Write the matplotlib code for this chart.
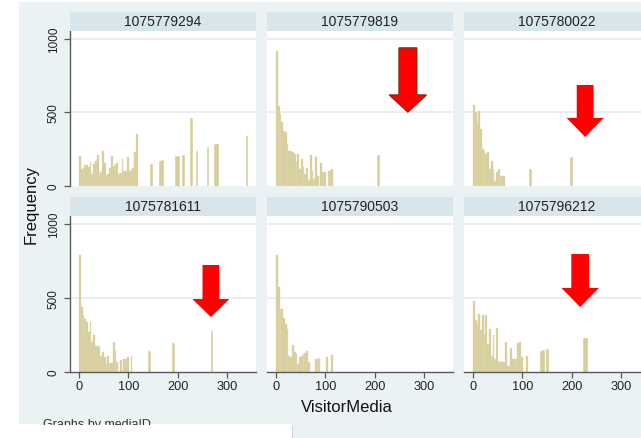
import matplotlib
matplotlib.use('Agg')
import matplotlib.pyplot as plt
from matplotlib.patches import Rectangle, Polygon
import numpy as np

plt.rcParams['font.family'] = ['Liberation Sans', 'DejaVu Sans']

# ---------------- data ----------------
panel_ids = ["1075779294", "1075779819", "1075780022",
             "1075781611", "1075790503", "1075796212"]
bin_width = 3.6

# dense part: consecutive bins starting at 0
dense_1 = [206, 116, 120, 145, 140, 130, 161, 82, 150, 172, 213, 82, 93, 236, 154, 70,
           82, 122, 202, 138, 150, 154, 82, 90, 184, 100, 104, 200, 104, 109, 120, 229, 352]
dense_2 = [916, 546, 490, 435, 376, 367, 286, 240, 236, 229, 218, 161, 218, 115, 184, 127,
           82, 120, 43, 212, 104, 50, 197, 70, 0, 155, 93, 93, 0, 100, 104, 115]
dense_3 = [553, 501, 433, 508, 388, 252, 240, 218, 229, 115, 172, 115, 36, 93, 115, 66, 66, 66]
dense_4 = [791, 440, 383, 360, 340, 272, 340, 202, 247, 179, 175, 170, 111, 138, 100, 54,
           111, 63, 63, 202, 145, 66, 0, 79, 0, 88, 88, 102, 0, 111]
dense_5 = [791, 576, 428, 428, 365, 327, 292, 111, 100, 184, 134, 123, 54, 104, 111, 123,
           129, 145, 66, 0, 0, 0, 88, 88, 93, 0, 0, 0, 104, 0, 0, 118]
dense_6 = [481, 350, 315, 395, 281, 383, 258, 383, 190, 292, 111, 247, 88, 297, 66, 77,
           70, 70, 206, 43, 43, 161, 88, 88, 88, 195, 202, 100, 0, 0, 111]

# sparse isolated bars: centre values and frequencies
sparse_x_1 = [146, 164, 168, 196, 200, 211, 226, 238, 260, 276, 280, 339]
sparse_h_1 = [150, 172, 175, 204, 206, 211, 460, 240, 268, 283, 286, 342]
sparse_x_2 = [207]
sparse_h_2 = [211]
sparse_x_3 = [115, 199]
sparse_h_3 = [115, 197]
sparse_x_4 = [142, 190, 268]
sparse_h_4 = [145, 197, 274]
sparse_x_5 = []
sparse_h_5 = []
sparse_x_6 = [137, 142, 150, 225, 229]
sparse_h_6 = [145, 150, 156, 231, 231]

dense_all = [dense_1, dense_2, dense_3, dense_4, dense_5, dense_6]
sparse_x_all = [sparse_x_1, sparse_x_2, sparse_x_3, sparse_x_4, sparse_x_5, sparse_x_6]
sparse_h_all = [sparse_h_1, sparse_h_2, sparse_h_3, sparse_h_4, sparse_h_5, sparse_h_6]

x_ticks = [0, 100, 200, 300]
y_ticks = [0, 500, 1000]

# annotation arrows: panel index, x, tip, head base, top, head half width, shaft half width
arrows = [
    (1, 267, 503, 619, 939, 37.5, 18, '#8b2a10'),
    (2, 227, 333, 463, 687, 37.5, 17, 'none'),
    (3, 267, 372, 493, 723, 37.5, 17, 'none'),
    (5, 217, 439, 568, 797, 38, 18, 'none'),
]

# ---------------- figure ----------------
W, H = 641, 439
fig = plt.figure(figsize=(W / 100, H / 100), dpi=100, facecolor='white')

def fx(px):
    return px / W

def fy(py):
    return 1 - py / H

bg = '#eaf2f3'
hdr = '#d8e5ea'
bar_c = '#d6cc99'
axis_c = '#5a5a5a'

fig.add_artist(Rectangle((fx(19), fy(425)), fx(641) - fx(19), fy(3) - fy(425),
                         transform=fig.transFigure, facecolor=bg, edgecolor='none', zorder=0))
fig.add_artist(Rectangle((fx(293), fy(439)), fx(641) - fx(293), fy(425) - fy(439),
                         transform=fig.transFigure, facecolor=bg, edgecolor='none', zorder=0))

col_left = [70, 267, 464]
row_top = [32, 217]
row_bot = [187, 373]
pw = 186
hdr_h = 19

axes = []
for i in range(6):
    r, c = divmod(i, 3)
    L = col_left[c]
    ax = fig.add_axes([fx(L), fy(row_bot[r]), pw / W, (row_bot[r] - row_top[r]) / H])
    ax.set_facecolor('white')
    ax.set_xlim(-18.2, 358.3)
    ax.set_ylim(0, 1054)
    for v in [500, 1000]:
        ax.axhline(v, color='#e5eef0', lw=1.2, zorder=0.5)
    d = dense_all[i]
    ax.bar(np.arange(len(d)) * bin_width, d, width=bin_width, align='edge',
           color=bar_c, edgecolor='#e4ddb6', lw=0.3, zorder=2)
    if sparse_x_all[i]:
        ax.bar(sparse_x_all[i], sparse_h_all[i], width=bin_width, align='center',
               color=bar_c, edgecolor=bar_c, lw=0.4, zorder=2)
    for s in ax.spines.values():
        s.set_visible(False)
    if c == 0:
        ax.spines['left'].set_visible(True)
        ax.spines['left'].set_color(axis_c)
        ax.spines['left'].set_linewidth(1.0)
        ax.set_yticks(y_ticks)
        ax.set_yticklabels([str(v) for v in y_ticks], fontsize=8.5, color='#222222')
        plt.setp(ax.get_yticklabels(), rotation=90, va='center')
        ax.tick_params(axis='y', length=4.5, width=0.9, color=axis_c, pad=3)
    else:
        ax.set_yticks([])
    if r == 1:
        ax.spines['bottom'].set_visible(True)
        ax.spines['bottom'].set_color(axis_c)
        ax.spines['bottom'].set_linewidth(1.0)
        ax.set_xticks(x_ticks)
        ax.set_xticklabels([str(v) for v in x_ticks], fontsize=9.2, color='#222222')
        ax.tick_params(axis='x', length=4, width=0.9, color=axis_c, pad=1.5)
    else:
        ax.set_xticks([])
    # header strip
    fig.add_artist(Rectangle((fx(L), fy(row_top[r])), pw / W, hdr_h / H,
                             transform=fig.transFigure, facecolor=hdr, edgecolor='none', zorder=1))
    fig.text(fx(L + pw / 2), fy(row_top[r] - hdr_h / 2), panel_ids[i], fontsize=10,
             ha='center', va='center', color='#222222', zorder=2)
    axes.append(ax)

# arrows
for (pi, xc, tip, base, top, hh, sh, ec) in arrows:
    ax = axes[pi]
    pts = [(xc - sh, top), (xc + sh, top), (xc + sh, base), (xc + hh, base),
           (xc, tip), (xc - hh, base), (xc - sh, base)]
    ax.add_patch(Polygon(pts, closed=True, facecolor='#ff0000', edgecolor=ec,
                         lw=1.0 if ec != 'none' else 0, clip_on=False, zorder=10))

fig.text(fx(347), fy(408), 'VisitorMedia', fontsize=12, ha='center', va='center', color='#111111')
fig.text(fx(31), fy(205), 'Frequency', fontsize=12, ha='center', va='center',
         rotation=90, color='#111111')
fig.text(fx(43), fy(419), 'Graphs by mediaID', fontsize=9, ha='left', va='top',
         color='#333333', zorder=3)
fig.add_artist(Rectangle((0, 0), fx(293), fy(425.7), transform=fig.transFigure,
                         facecolor='white', edgecolor='none', zorder=20))
fig.add_artist(Rectangle((fx(292), 0), fx(1.2), fy(425.7), transform=fig.transFigure,
                         facecolor='#d0d6d8', edgecolor='none', zorder=21))

fig.savefig('out.png', dpi=100, facecolor='white')
